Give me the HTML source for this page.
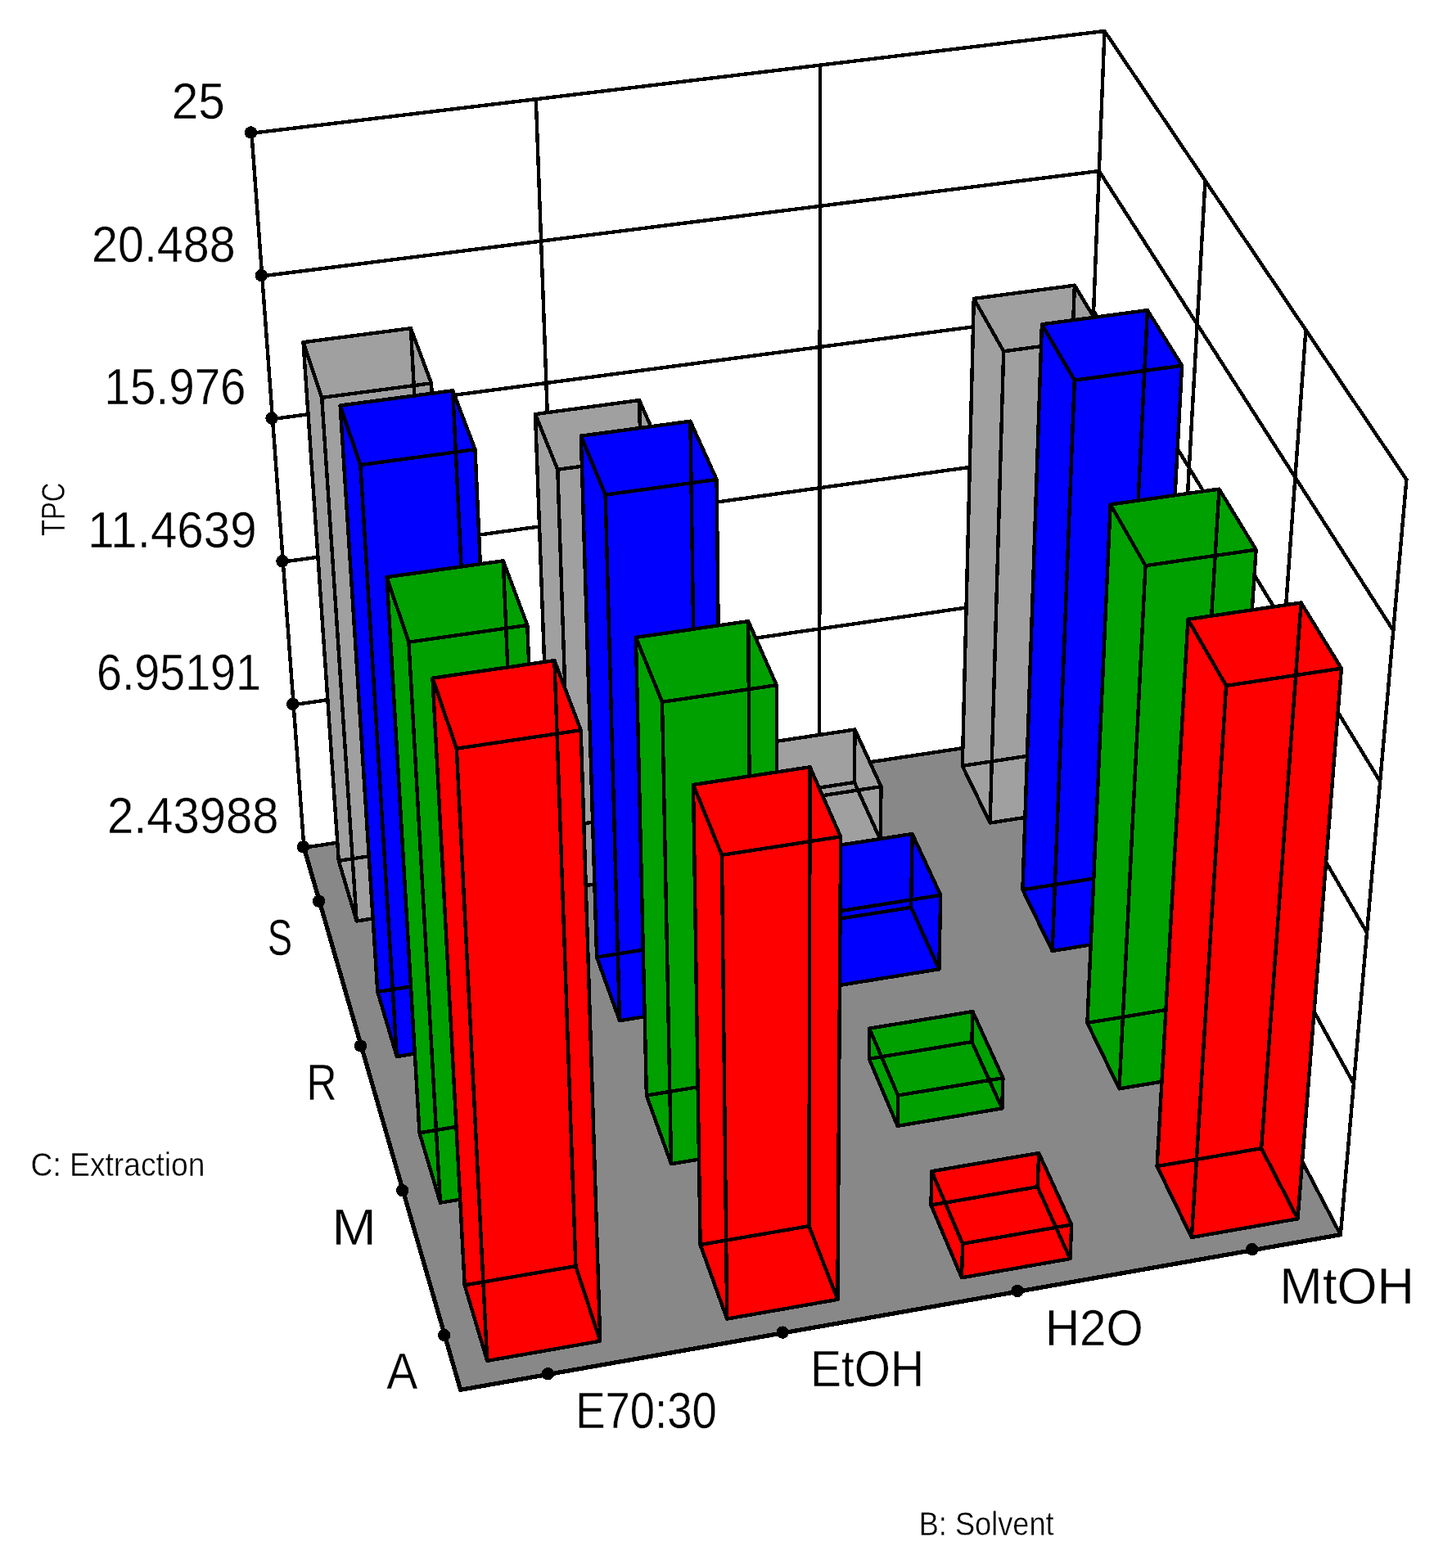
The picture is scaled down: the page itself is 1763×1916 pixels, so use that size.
<!DOCTYPE html>
<html lang="en"><head><meta charset="utf-8"><title>TPC 3D bar chart</title>
<style>html,body{margin:0;padding:0;background:#fff}body{width:1763px;height:1916px;overflow:hidden}svg{display:block}</style>
</head><body>
<svg xmlns="http://www.w3.org/2000/svg" width="1763" height="1916" viewBox="0 0 1763 1916">
<rect width="1763" height="1916" fill="#fff"/>
<g shape-rendering="crispEdges">
<path fill="none" stroke="#000" stroke-width="4.40" stroke-linecap="round" d="M307.4,162.8L1349.5,38.0M1349.5,38.0L1718.4,585.9M307.4,162.8L371.4,1035.8M1349.5,38.0L1316.0,893.0M1718.4,585.9L1637.8,1508.7M358.6,861.2L1322.7,722.0M1322.7,722.0L1653.9,1324.1M345.8,686.6L1329.4,551.0M1329.4,551.0L1670.0,1139.6M333.0,512.0L1336.1,380.0M1336.1,380.0L1686.2,955.0M320.2,337.4L1342.8,209.0M1342.8,209.0L1702.3,770.5M654.8,121.2L686.3,988.2M1472.5,220.6L1423.3,1098.2M1002.1,79.6L1001.1,940.6M1595.4,403.3L1530.5,1303.5"/>
<polygon points="562.6,1698.3 1637.8,1508.7 1316.0,893.0 371.4,1035.8" fill="#888888"/>
<path fill="none" stroke="#000" stroke-width="4.40" stroke-linecap="round" d="M1637.8,1508.7L1316.0,893.0M1316.0,893.0L371.4,1035.8"/>
<path fill="none" stroke="#000" stroke-width="5.30" stroke-linecap="round" d="M371.4,1035.8L562.6,1698.3M562.6,1698.3L1637.8,1508.7"/>
<g><title>E70:30 / S</title><polygon points="370.5,418.2 501.9,401.2 527.0,468.3 559.5,1106.3 435.7,1125.5 413.8,1051.9" fill="#a0a0a0"/><path fill="none" stroke="#000" stroke-width="4.40" stroke-linecap="round" d="M435.7,1125.5L559.5,1106.3M559.5,1106.3L535.7,1033.3M535.7,1033.3L413.8,1051.9M413.8,1051.9L435.7,1125.5M393.2,485.9L527.0,468.3M527.0,468.3L501.9,401.2M501.9,401.2L370.5,418.2M370.5,418.2L393.2,485.9M435.7,1125.5L393.2,485.9M559.5,1106.3L527.0,468.3M535.7,1033.3L501.9,401.2M413.8,1051.9L370.5,418.2"/></g>
<g><title>EtOH / S</title><polygon points="654.0,506.1 781.1,489.1 810.5,556.2 820.0,1065.9 698.5,1084.7 672.5,1012.5" fill="#a0a0a0"/><path fill="none" stroke="#000" stroke-width="4.40" stroke-linecap="round" d="M698.5,1084.7L820.0,1065.9M820.0,1065.9L792.2,994.3M792.2,994.3L672.5,1012.5M672.5,1012.5L698.5,1084.7M681.3,573.8L810.5,556.2M810.5,556.2L781.1,489.1M781.1,489.1L654.0,506.1M654.0,506.1L681.3,573.8M698.5,1084.7L681.3,573.8M820.0,1065.9L810.5,556.2M792.2,994.3L781.1,489.1M672.5,1012.5L654.0,506.1"/></g>
<g><title>H2O / S</title><polygon points="926.1,909.2 1044.5,891.5 1076.5,961.2 1075.7,1026.3 956.5,1044.7 926.5,973.8" fill="#a0a0a0"/><path fill="none" stroke="#000" stroke-width="4.40" stroke-linecap="round" d="M956.5,1044.7L1075.7,1026.3M1075.7,1026.3L1043.9,956.0M1043.9,956.0L926.5,973.8M926.5,973.8L956.5,1044.7M956.3,979.6L1076.5,961.2M1076.5,961.2L1044.5,891.5M1044.5,891.5L926.1,909.2M926.1,909.2L956.3,979.6M956.5,1044.7L956.3,979.6M1075.7,1026.3L1076.5,961.2M1043.9,956.0L1044.5,891.5M926.5,973.8L926.1,909.2"/></g>
<g><title>MtOH / S</title><polygon points="1312.9,348.7 1351.4,412.5 1326.7,987.4 1209.6,1005.5 1175.8,935.9 1189.8,364.9" fill="#a0a0a0"/><path fill="none" stroke="#000" stroke-width="4.40" stroke-linecap="round" d="M1209.6,1005.5L1326.7,987.4M1326.7,987.4L1291.1,918.3M1291.1,918.3L1175.8,935.9M1175.8,935.9L1209.6,1005.5M1226.2,429.3L1351.4,412.5M1351.4,412.5L1312.9,348.7M1312.9,348.7L1189.8,364.9M1189.8,364.9L1226.2,429.3M1209.6,1005.5L1226.2,429.3M1326.7,987.4L1351.4,412.5M1291.1,918.3L1312.9,348.7M1175.8,935.9L1189.8,364.9"/></g>
<g><title>E70:30 / R</title><polygon points="415.6,495.5 553.2,477.3 580.5,549.2 613.1,1270.4 484.8,1291.1 461.3,1211.9" fill="#0000ff"/><path fill="none" stroke="#000" stroke-width="4.40" stroke-linecap="round" d="M484.8,1291.1L613.1,1270.4M613.1,1270.4L587.5,1192.0M587.5,1192.0L461.3,1211.9M461.3,1211.9L484.8,1291.1M440.3,568.1L580.5,549.2M580.5,549.2L553.2,477.3M553.2,477.3L415.6,495.5M415.6,495.5L440.3,568.1M484.8,1291.1L440.3,568.1M613.1,1270.4L580.5,549.2M587.5,1192.0L553.2,477.3M461.3,1211.9L415.6,495.5"/></g>
<g><title>EtOH / R</title><polygon points="709.8,532.7 843.4,514.7 875.6,585.9 882.8,1227.0 757.0,1247.2 729.1,1169.6" fill="#0000ff"/><path fill="none" stroke="#000" stroke-width="4.40" stroke-linecap="round" d="M757.0,1247.2L882.8,1227.0M882.8,1227.0L852.8,1150.0M852.8,1150.0L729.1,1169.6M729.1,1169.6L757.0,1247.2M739.6,604.6L875.6,585.9M875.6,585.9L843.4,514.7M843.4,514.7L709.8,532.7M709.8,532.7L739.6,604.6M757.0,1247.2L739.6,604.6M882.8,1227.0L875.6,585.9M852.8,1150.0L843.4,514.7M729.1,1169.6L709.8,532.7"/></g>
<g><title>H2O / R</title><polygon points="1023.9,1204.2 991.7,1128.0 991.9,1038.0 1114.6,1019.0 1149.2,1093.8 1147.3,1184.3" fill="#0000ff"/><path fill="none" stroke="#000" stroke-width="4.40" stroke-linecap="round" d="M1023.9,1204.2L1147.3,1184.3M1147.3,1184.3L1113.1,1108.8M1113.1,1108.8L991.7,1128.0M991.7,1128.0L1023.9,1204.2M1024.5,1113.5L1149.2,1093.8M1149.2,1093.8L1114.6,1019.0M1114.6,1019.0L991.9,1038.0M991.9,1038.0L1024.5,1113.5M1023.9,1204.2L1024.5,1113.5M1147.3,1184.3L1149.2,1093.8M1113.1,1108.8L1114.6,1019.0M991.7,1128.0L991.9,1038.0"/></g>
<g><title>MtOH / R</title><polygon points="1401.9,379.1 1444.1,446.8 1406.7,1142.5 1285.7,1162.0 1249.4,1087.2 1272.9,396.3" fill="#0000ff"/><path fill="none" stroke="#000" stroke-width="4.40" stroke-linecap="round" d="M1285.7,1162.0L1406.7,1142.5M1406.7,1142.5L1368.5,1068.4M1368.5,1068.4L1249.4,1087.2M1249.4,1087.2L1285.7,1162.0M1312.8,464.6L1444.1,446.8M1444.1,446.8L1401.9,379.1M1401.9,379.1L1272.9,396.3M1272.9,396.3L1312.8,464.6M1285.7,1162.0L1312.8,464.6M1406.7,1142.5L1444.1,446.8M1368.5,1068.4L1401.9,379.1M1249.4,1087.2L1272.9,396.3"/></g>
<g><title>E70:30 / M</title><polygon points="472.6,705.2 614.8,685.3 644.3,763.9 670.9,1447.4 537.9,1469.7 512.5,1384.3" fill="#00a000"/><path fill="none" stroke="#000" stroke-width="4.40" stroke-linecap="round" d="M537.9,1469.7L670.9,1447.4M670.9,1447.4L643.2,1362.8M643.2,1362.8L512.5,1384.3M512.5,1384.3L537.9,1469.7M499.4,784.7L644.3,763.9M644.3,763.9L614.8,685.3M614.8,685.3L472.6,705.2M472.6,705.2L499.4,784.7M537.9,1469.7L499.4,784.7M670.9,1447.4L644.3,763.9M643.2,1362.8L614.8,685.3M512.5,1384.3L472.6,705.2"/></g>
<g><title>EtOH / M</title><polygon points="776.9,778.9 914.2,759.1 948.8,837.2 950.4,1400.4 820.1,1422.3 789.9,1338.6" fill="#00a000"/><path fill="none" stroke="#000" stroke-width="4.40" stroke-linecap="round" d="M820.1,1422.3L950.4,1400.4M950.4,1400.4L918.0,1317.5M918.0,1317.5L789.9,1338.6M789.9,1338.6L820.1,1422.3M809.0,857.8L948.8,837.2M948.8,837.2L914.2,759.1M914.2,759.1L776.9,778.9M776.9,778.9L809.0,857.8M820.1,1422.3L809.0,857.8M950.4,1400.4L948.8,837.2M918.0,1317.5L914.2,759.1M789.9,1338.6L776.9,778.9"/></g>
<g><title>H2O / M</title><polygon points="1096.6,1375.9 1061.8,1293.8 1062.2,1256.7 1188.4,1236.1 1225.4,1317.2 1224.3,1354.4" fill="#00a000"/><path fill="none" stroke="#000" stroke-width="4.40" stroke-linecap="round" d="M1096.6,1375.9L1224.3,1354.4M1224.3,1354.4L1187.4,1273.1M1187.4,1273.1L1061.8,1293.8M1061.8,1293.8L1096.6,1375.9M1097.1,1338.5L1225.4,1317.2M1225.4,1317.2L1188.4,1236.1M1188.4,1236.1L1062.2,1256.7M1062.2,1256.7L1097.1,1338.5M1096.6,1375.9L1097.1,1338.5M1224.3,1354.4L1225.4,1317.2M1187.4,1273.1L1188.4,1236.1M1061.8,1293.8L1062.2,1256.7"/></g>
<g><title>MtOH / M</title><polygon points="1489.5,597.6 1534.6,671.7 1492.7,1309.3 1367.5,1330.4 1328.4,1249.9 1356.7,616.4" fill="#00a000"/><path fill="none" stroke="#000" stroke-width="4.40" stroke-linecap="round" d="M1367.5,1330.4L1492.7,1309.3M1492.7,1309.3L1451.6,1229.6M1451.6,1229.6L1328.4,1249.9M1328.4,1249.9L1367.5,1330.4M1399.5,691.2L1534.6,671.7M1534.6,671.7L1489.5,597.6M1489.5,597.6L1356.7,616.4M1356.7,616.4L1399.5,691.2M1367.5,1330.4L1399.5,691.2M1492.7,1309.3L1534.6,671.7M1451.6,1229.6L1489.5,597.6M1328.4,1249.9L1356.7,616.4"/></g>
<g><title>E70:30 / A</title><polygon points="528.5,828.6 677.4,807.1 709.7,892.2 733.3,1638.7 595.2,1662.9 567.7,1570.4" fill="#ff0000"/><path fill="none" stroke="#000" stroke-width="4.40" stroke-linecap="round" d="M595.2,1662.9L733.3,1638.7M733.3,1638.7L703.4,1547.1M703.4,1547.1L567.7,1570.4M567.7,1570.4L595.2,1662.9M557.8,914.7L709.7,892.2M709.7,892.2L677.4,807.1M677.4,807.1L528.5,828.6M528.5,828.6L557.8,914.7M595.2,1662.9L557.8,914.7M733.3,1638.7L709.7,892.2M703.4,1547.1L677.4,807.1M567.7,1570.4L528.5,828.6"/></g>
<g><title>EtOH / A</title><polygon points="1027.1,1022.4 1023.4,1587.9 888.2,1611.6 855.6,1521.0 847.0,958.9 989.6,937.3" fill="#ff0000"/><path fill="none" stroke="#000" stroke-width="4.40" stroke-linecap="round" d="M888.2,1611.6L1023.4,1587.9M1023.4,1587.9L988.4,1498.2M988.4,1498.2L855.6,1521.0M855.6,1521.0L888.2,1611.6M881.9,1044.8L1027.1,1022.4M1027.1,1022.4L989.6,937.3M989.6,937.3L847.0,958.9M847.0,958.9L881.9,1044.8M888.2,1611.6L881.9,1044.8M1023.4,1587.9L1027.1,1022.4M988.4,1498.2L989.6,937.3M855.6,1521.0L847.0,958.9"/></g>
<g><title>H2O / A</title><polygon points="1175.0,1561.3 1137.5,1472.6 1138.3,1431.2 1269.2,1409.0 1309.2,1496.5 1307.4,1538.1" fill="#ff0000"/><path fill="none" stroke="#000" stroke-width="4.40" stroke-linecap="round" d="M1175.0,1561.3L1307.4,1538.1M1307.4,1538.1L1267.6,1450.2M1267.6,1450.2L1137.5,1472.6M1137.5,1472.6L1175.0,1561.3M1176.1,1519.7L1309.2,1496.5M1309.2,1496.5L1269.2,1409.0M1269.2,1409.0L1138.3,1431.2M1138.3,1431.2L1176.1,1519.7M1175.0,1561.3L1176.1,1519.7M1307.4,1538.1L1309.2,1496.5M1267.6,1450.2L1269.2,1409.0M1137.5,1472.6L1138.3,1431.2"/></g>
<g><title>MtOH / A</title><polygon points="1589.6,736.5 1638.9,816.7 1585.5,1489.3 1455.9,1512.0 1413.6,1425.1 1451.4,756.8" fill="#ff0000"/><path fill="none" stroke="#000" stroke-width="4.40" stroke-linecap="round" d="M1455.9,1512.0L1585.5,1489.3M1585.5,1489.3L1541.1,1403.2M1541.1,1403.2L1413.6,1425.1M1413.6,1425.1L1455.9,1512.0M1498.1,837.9L1638.9,816.7M1638.9,816.7L1589.6,736.5M1589.6,736.5L1451.4,756.8M1451.4,756.8L1498.1,837.9M1455.9,1512.0L1498.1,837.9M1585.5,1489.3L1638.9,816.7M1541.1,1403.2L1589.6,736.5M1413.6,1425.1L1451.4,756.8"/></g>
<g fill="#000"><circle cx="370.5" cy="1034.9" r="7.7"/><circle cx="357.7" cy="860.3" r="7.7"/><circle cx="344.9" cy="685.7" r="7.7"/><circle cx="332.1" cy="511.2" r="7.7"/><circle cx="319.3" cy="336.6" r="7.7"/><circle cx="306.5" cy="162.0" r="7.7"/><circle cx="669.4" cy="1678.8" r="7.7"/><circle cx="956.2" cy="1628.1" r="7.7"/><circle cx="1243.0" cy="1577.3" r="7.7"/><circle cx="1529.8" cy="1526.6" r="7.7"/><circle cx="542.7" cy="1631.5" r="7.7"/><circle cx="491.7" cy="1454.7" r="7.7"/><circle cx="440.6" cy="1278.0" r="7.7"/><circle cx="389.6" cy="1101.2" r="7.7"/></g>
</g>
<g font-family="'Liberation Sans', sans-serif" fill="#000" stroke="#fff" stroke-width="0.4" paint-order="fill">
<text transform="translate(209.77 144.95) scale(0.9410 1)" font-size="62.20">25</text>
<text transform="translate(112.03 319.55) scale(0.9234 1)" font-size="62.20">20.488</text>
<text transform="translate(127.56 494.05) scale(0.9094 1)" font-size="62.20">15.976</text>
<text transform="translate(107.23 668.55) scale(0.9374 1)" font-size="62.20">11.4639</text>
<text transform="translate(118.02 843.05) scale(0.8933 1)" font-size="62.20">6.95191</text>
<text transform="translate(130.90 1017.75) scale(0.9331 1)" font-size="62.20">2.43988</text>
<text transform="translate(326.75 1167.15) scale(0.7326 1)" font-size="62.20">S</text>
<text transform="translate(374.59 1344.05) scale(0.8257 1)" font-size="62.20">R</text>
<text transform="translate(405.49 1520.85) scale(1.0462 1)" font-size="62.20">M</text>
<text transform="translate(472.21 1696.95) scale(0.9183 1)" font-size="62.20">A</text>
<text transform="translate(703.14 1745.15) scale(0.8755 1)" font-size="62.20">E70:30</text>
<text transform="translate(990.05 1694.35) scale(0.9147 1)" font-size="62.20">EtOH</text>
<text transform="translate(1276.94 1644.15) scale(0.9371 1)" font-size="62.20">H2O</text>
<text transform="translate(1563.35 1593.15) scale(1.0145 1)" font-size="62.20">MtOH</text>
<text transform="translate(37.54 1436.75) scale(0.9208 1)" font-size="40.40">C: Extraction</text>
<text transform="translate(1122.70 1875.85) scale(0.8960 1)" font-size="40.40">B: Solvent</text>
<text transform="translate(79.15 654.92) rotate(-90) scale(0.8097 1)" font-size="40.40">TPC</text>
</g>
</svg>
</body></html>
